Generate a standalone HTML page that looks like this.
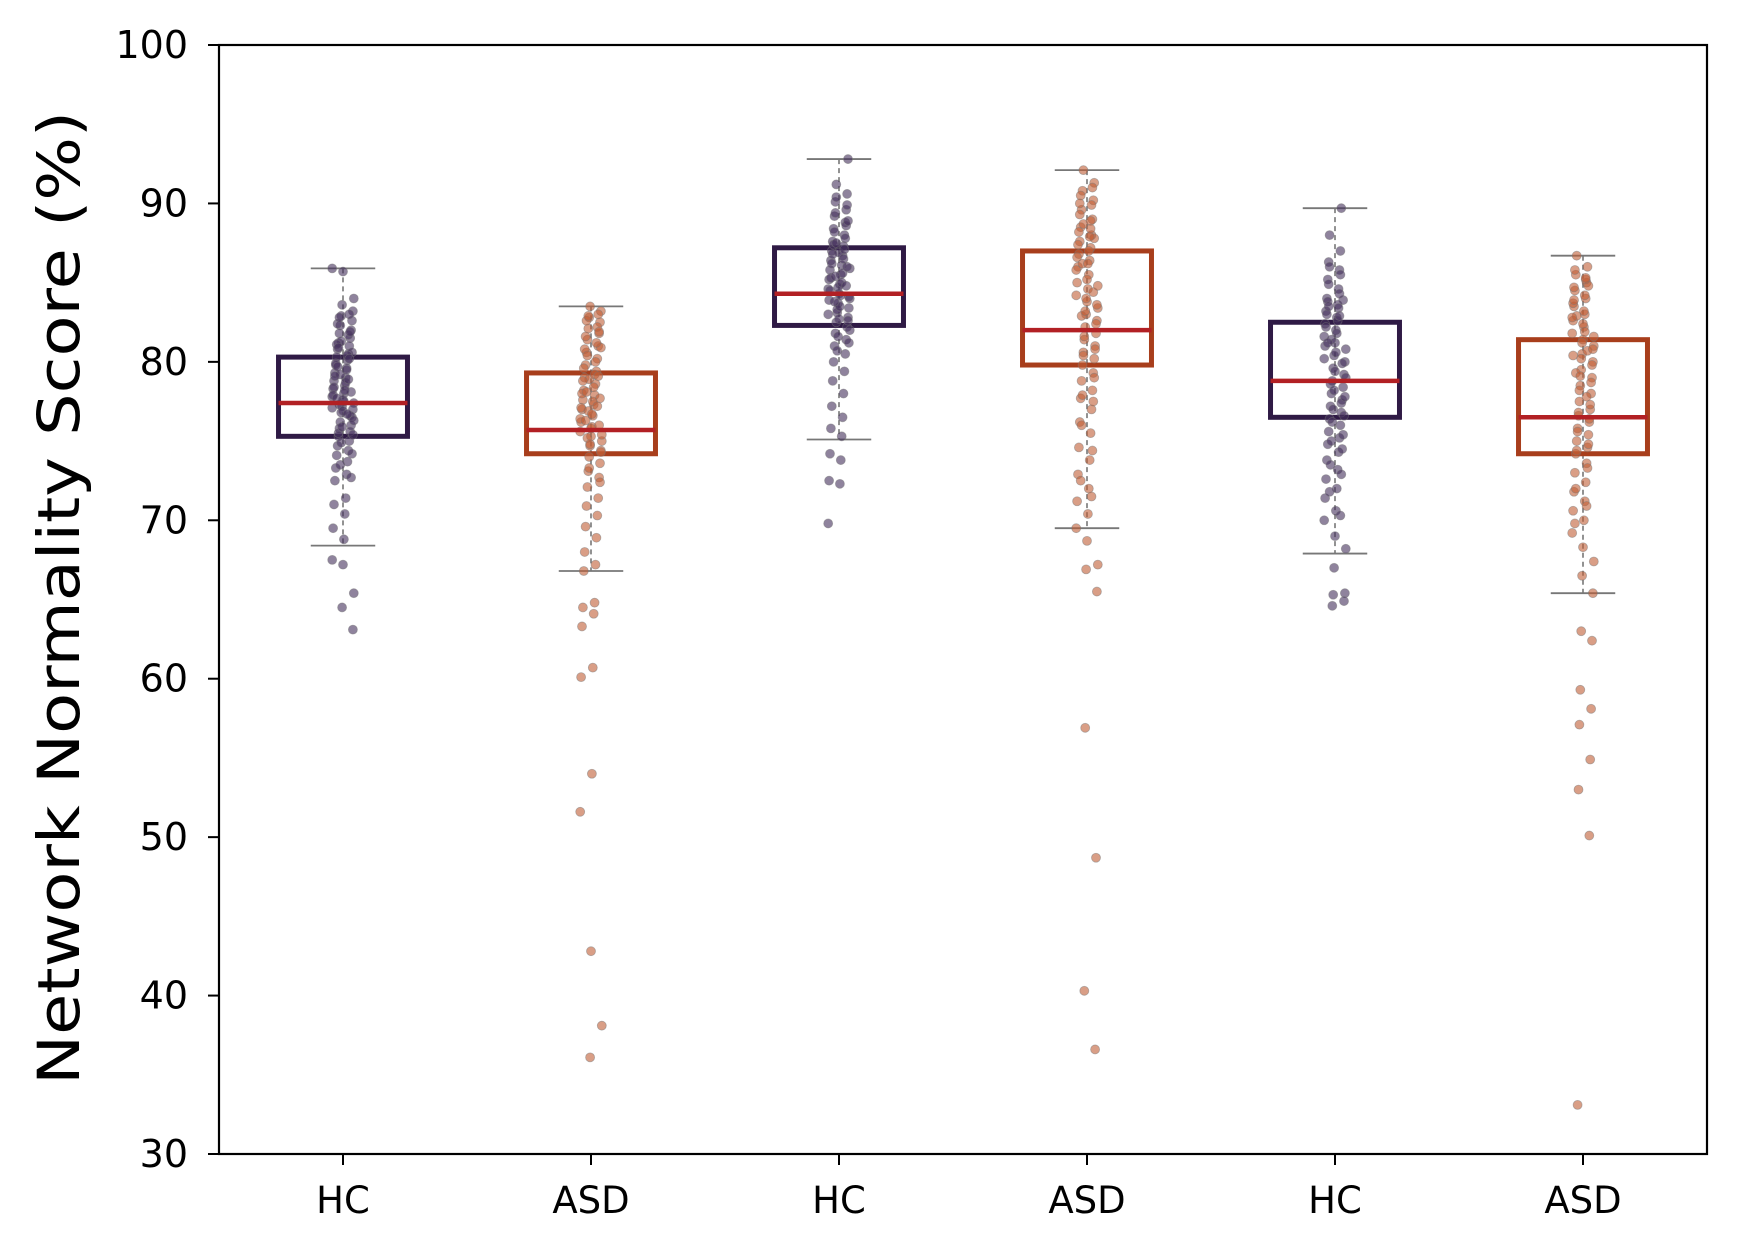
<!DOCTYPE html>
<html><head><meta charset="utf-8"><style>
html,body{margin:0;padding:0;background:#fff;}
svg{display:block;font-family:"DejaVu Sans","Liberation Sans",sans-serif;}
</style></head><body>
<svg id="chart" width="1737" height="1253" viewBox="0 0 1737 1253"></svg>
<script>
const categories = ["HC","ASD","HC","ASD","HC","ASD"];
const q1s = [75.3, 74.2, 82.3, 79.8, 76.5, 74.2];
const medians = [77.4, 75.7, 84.3, 82.0, 78.8, 76.5];
const q3s = [80.3, 79.3, 87.2, 87.0, 82.5, 81.4];
const whiskLow = [68.4, 66.8, 75.1, 69.5, 67.9, 65.4];
const whiskHigh = [85.9, 83.5, 92.8, 92.1, 89.7, 86.7];
const yTicks = [30,40,50,60,70,80,90,100];
const pts0 = [85.9,85.7,84.0,83.6,83.2,82.9,82.6,82.3,82.0,81.8,81.5,81.2,81.0,80.8,80.5,80.3,80.1,79.9,79.6,79.3,79.0,78.8,78.5,78.3,78.0,77.8,77.6,77.4,77.2,77.0,76.8,76.5,76.2,76.0,75.8,75.6,75.3,75.0,74.7,74.4,74.1,73.7,73.3,72.9,72.5,71.4,71.0,70.4,69.5,68.8,67.5,67.2,65.4,64.5,63.1,81.3,80.6,79.2,78.1,77.3,76.6,75.5,
 83.0,82.4,81.7,81.1,80.4,79.8,79.5,79.1,78.7,78.4,78.2,77.9,77.5,77.1,76.9,76.3,75.9,75.4,74.9,74.2,73.5,72.7,82.8,81.9,80.9,80.2,79.7,78.9,77.7,76.7];
const pts1 = [83.5,83.2,82.8,82.5,82.1,81.8,81.4,81.0,80.6,80.2,79.8,79.4,79.0,78.6,78.2,77.9,77.6,77.3,77.0,76.6,76.2,75.9,75.6,75.3,75.0,74.7,74.4,74.0,73.6,73.1,72.7,72.1,71.4,70.9,70.3,69.6,68.9,68.0,67.2,66.8,64.8,64.5,64.1,63.3,60.7,60.1,54.0,51.6,42.8,38.1,36.1,80.9,78.9,77.7,76.9,76.0,75.2,
 83.0,82.6,82.2,81.6,81.2,80.8,80.0,79.6,79.2,78.8,78.4,78.0,77.5,77.1,76.7,76.4,75.8,75.4,74.8,74.3,73.3,72.4,82.9,81.9,80.4,79.1,78.1,77.2,76.3];
const pts2 = [92.8,91.2,90.6,90.1,89.6,89.2,88.8,88.4,88.0,87.6,87.3,87.0,86.7,86.4,86.1,85.8,85.5,85.2,84.9,84.6,84.3,84.0,83.7,83.4,83.1,82.8,82.5,82.2,81.8,81.4,81.0,80.5,80.0,79.4,78.8,78.0,77.2,76.5,75.8,75.3,74.2,73.8,72.5,72.3,69.8,86.9,85.9,84.7,84.1,83.3,82.6,
 90.4,89.9,89.4,88.6,88.2,87.8,87.4,87.1,86.8,86.5,86.2,85.6,85.3,85.0,84.5,84.2,83.9,83.5,83.0,82.7,82.0,81.6,81.2,80.7,88.9,87.5,86.0,85.4,84.8,83.8];
const pts3 = [92.1,91.3,90.8,90.2,89.6,89.0,88.5,88.0,87.6,87.2,86.8,86.4,86.0,85.5,85.0,84.6,84.2,83.8,83.4,83.0,82.6,82.2,81.8,81.4,81.0,80.6,80.2,79.8,79.3,78.8,78.2,77.7,77.0,76.2,75.5,74.6,73.8,72.9,72.0,71.2,70.4,69.5,68.7,67.2,66.9,65.5,56.9,48.7,40.3,36.6,88.7,87.8,86.2,84.4,82.9,
 91.0,90.5,89.9,89.3,88.9,88.2,87.9,87.4,87.0,86.6,86.2,85.8,85.2,84.8,84.0,83.6,83.2,82.4,81.6,80.8,80.4,79.0,77.9,77.5,76.0,74.4,72.5,71.5,90.0,88.4];
const pts4 = [89.7,88.0,87.0,86.3,85.8,85.2,84.6,84.0,83.6,83.2,82.8,82.4,82.0,81.6,81.2,80.8,80.4,80.0,79.6,79.2,78.8,78.4,78.0,77.6,77.2,76.8,76.4,76.0,75.6,75.2,74.8,74.3,73.8,73.2,72.6,72.0,71.4,70.6,70.0,69.0,68.2,67.0,65.4,65.3,64.9,64.6,83.9,81.4,79.9,78.6,77.4,
 86.0,85.5,84.9,84.3,83.8,83.4,83.0,82.6,82.2,81.8,81.0,80.6,80.2,79.4,79.0,78.2,77.8,77.0,76.6,76.2,75.4,75.0,74.5,73.5,72.9,71.8,70.3,83.5,82.9,81.2];
const pts5 = [86.7,86.0,85.5,85.0,84.5,84.0,83.5,83.0,82.6,82.2,81.8,81.4,81.0,80.5,80.0,79.5,79.0,78.5,78.0,77.5,77.0,76.6,76.2,75.8,75.4,75.0,74.6,74.2,73.6,73.0,72.4,71.8,71.2,70.6,70.0,69.2,68.3,67.4,66.5,65.4,63.0,62.4,59.3,58.1,57.1,54.9,53.0,50.1,33.1,84.8,82.9,80.7,79.3,77.8,
 85.8,85.2,84.7,84.2,83.7,83.2,82.8,82.4,81.6,81.2,80.8,80.2,79.8,79.1,78.7,78.2,77.3,76.8,76.4,75.6,74.8,74.4,73.3,72.0,70.9,69.8,85.3,83.9,81.9,80.4];
const seriesPts = [pts0,pts1,pts2,pts3,pts4,pts5];

const L=219, R=1707, T=45, B=1154;
const yMin=30, yMax=100;
function y(v){ return B - (v - yMin) / (yMax - yMin) * (B - T); }
const step = (R - L) / categories.length;
function x(i){ return L + step * (i + 0.5); }
const NS="http://www.w3.org/2000/svg";
const svg=document.getElementById('chart');
function mk(tag, attrs, parent){
  const e=document.createElementNS(NS,tag);
  for(const k in attrs) e.setAttribute(k, attrs[k]);
  (parent||svg).appendChild(e); return e;
}
const boxColors=["#2f1a45","#a83e1c"];
const ptFill=["#45305c","#c05e36"];
const boxW=step*0.52, capW=step*0.26;

for(let i=0;i<categories.length;i++){
  const g=mk('g',{});
  
  
  const cx=x(i), c=i%2;
  const wl=mk('line',{x1:cx,x2:cx,y1:y(whiskHigh[i]),y2:y(whiskLow[i]),stroke:'#777',"stroke-width":1.6,"stroke-dasharray":"5,4"},g);
  
  
  [whiskHigh[i],whiskLow[i]].forEach(v=>{
    const cap=mk('line',{x1:cx-capW/2,x2:cx+capW/2,y1:y(v),y2:y(v),stroke:'#777',"stroke-width":1.8},g);
    
    
  });
  const box=mk('rect',{x:cx-boxW/2,y:y(q3s[i]),width:boxW,height:y(q1s[i])-y(q3s[i]),fill:'none',stroke:boxColors[c],"stroke-width":5},g);
  
  
  const pts=seriesPts[i];
  pts.forEach((v,j)=>{
    const jit=(((j*37+i*11)%25)-12)*0.9;
    const p=mk('circle',{cx:cx+jit,cy:y(v),r:4.5,fill:ptFill[c],"fill-opacity":0.6,stroke:'#777',"stroke-opacity":0.5,"stroke-width":0.8},g);
    
    
  });
  const med=mk('line',{x1:cx-boxW/2,x2:cx+boxW/2,y1:y(medians[i]),y2:y(medians[i]),stroke:'#b22024',"stroke-width":4.5},g);
  
  
  const tk=mk('line',{x1:cx,x2:cx,y1:B,y2:B+11,stroke:'#000',"stroke-width":2});
  
  
  const tl=mk('text',{x:cx,y:1213,"text-anchor":"middle","font-size":37,fill:'#000'});
  tl.textContent=categories[i];
  
  
}
yTicks.forEach(v=>{
  const tk=mk('line',{x1:L-11,x2:L,y1:y(v),y2:y(v),stroke:'#000',"stroke-width":2});
  
  
  const tl=mk('text',{x:L-31,y:y(v)+13,"text-anchor":"end","font-size":38,fill:'#000'});
  tl.textContent=v;
  
  
});
const frame=mk('rect',{x:L,y:T,width:R-L,height:B-T,fill:'none',stroke:'#000',"stroke-width":2.2});


const yl=mk('text',{x:0,y:0,"text-anchor":"middle","font-size":58,fill:'#000',transform:'translate(79,598) rotate(-90)',textLength:974,lengthAdjust:'spacingAndGlyphs'});
yl.textContent='Network Normality Score (%)';


</script>
</body></html>
